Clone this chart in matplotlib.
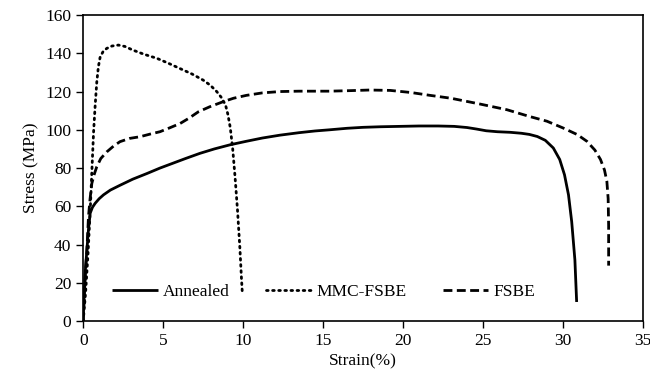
import matplotlib.pyplot as plt

# Stress-strain curves
annealed_strain = [0, 0.05, 0.12, 0.23, 0.33, 0.44, 0.58, 0.75, 1.0, 1.27, 1.7, 2.3, 3.1, 4.0, 4.8, 5.6, 6.4, 7.3, 8.2, 9.2, 10.2, 11.2, 12.3, 13.5, 14.5, 15.4, 16.5, 17.5, 18.6, 19.8, 21, 22.2, 23.2, 24.0, 24.6, 25.2, 25.9, 26.7, 27.4, 27.9, 28.4, 28.9, 29.4, 29.8, 30.1, 30.35, 30.55, 30.75, 30.86]
annealed_stress = [0, 12, 25, 37, 48, 56.5, 59.5, 61.6, 64, 66, 68.5, 71, 74.2, 77.2, 80, 82.5, 85, 87.7, 90, 92.2, 94, 95.7, 97.2, 98.5, 99.4, 100, 100.8, 101.3, 101.6, 101.8, 102, 102, 101.8, 101.2, 100.4, 99.5, 99, 98.7, 98.2, 97.6, 96.5, 94.5, 90.5, 84.5, 76.5, 66, 52, 32, 10]

mmc_strain = [0, 0.15, 0.3, 0.45, 0.55, 0.65, 0.75, 0.85, 0.95, 1.06, 1.25, 1.48, 1.8, 2.2, 2.6, 3.1, 3.8, 4.6, 5.3, 6.06, 6.8, 7.5, 7.95, 8.35, 8.65, 8.9, 9.05, 9.2, 9.35, 9.5, 9.65, 9.8, 9.9, 9.95]
mmc_stress = [0, 15, 35, 60, 80, 99, 113, 125, 133, 138, 141, 142.6, 143.8, 144.3, 143.6, 141.7, 139.5, 137.4, 134.9, 132, 129.2, 126, 123.3, 120, 116.8, 113, 108, 101, 90, 75, 58, 38, 22, 15]

fsbe_strain = [0, 0.08, 0.15, 0.23, 0.33, 0.43, 0.54, 0.7, 0.85, 1.1, 1.48, 1.9, 2.3, 2.9, 3.56, 4.2, 4.8, 5.4, 6.06, 6.6, 7.2, 7.9, 8.75, 9.4, 10.2, 11.2, 12.3, 13.5, 15.4, 16.8, 17.9, 19.2, 20.5, 21.7, 23.0, 24.8, 26.5, 27.9, 29.0, 30.0, 30.9, 31.5, 32.0, 32.35, 32.6, 32.75, 32.83, 32.86, 32.86]
fsbe_stress = [0, 15, 27, 37, 54.5, 64, 72, 77, 80.7, 85, 88.5, 91.5, 93.8, 95.5, 96.4, 97.8, 99, 101, 103.3, 106, 109.4, 112, 114.7, 116.5, 118, 119.3, 120, 120.2, 120.2, 120.5, 120.8, 120.6, 119.5, 118, 116.5, 113.5, 110.5, 107, 104.5, 101, 97.5, 94, 89.4, 84.5, 79, 73, 64, 50, 29]

x_ticks = [0, 5, 10, 15, 20, 25, 30, 35]
y_ticks = [0, 20, 40, 60, 80, 100, 120, 140, 160]

plt.rcParams['font.family'] = ['Liberation Serif', 'DejaVu Serif']

fig, ax = plt.subplots(figsize=(6.5, 3.76), dpi=100)
fig.subplots_adjust(left=0.128, right=0.989, top=0.96, bottom=0.146)

ax.plot(annealed_strain, annealed_stress, color='black', linewidth=2,
        solid_capstyle='butt', solid_joinstyle='round', label='Annealed')
ax.plot(mmc_strain, mmc_stress, color='black', linewidth=2,
        linestyle=(0, (0.6, 1.6)), dash_capstyle='round', label='MMC-FSBE')
ax.plot(fsbe_strain, fsbe_stress, color='black', linewidth=2,
        linestyle=(0, (3.2, 1.6)), dash_capstyle='butt', label='FSBE')

ax.set_xlim(0, 35)
ax.set_ylim(0, 160)
ax.set_xticks(x_ticks)
ax.set_yticks(y_ticks)
ax.tick_params(direction='out', length=5, width=1, labelsize=12.5, color='black')

for side in ['left', 'bottom', 'top', 'right']:
    ax.spines[side].set_linewidth(1.2)

ax.set_xlabel("Strain(%)", fontsize=12.5, labelpad=3)
ax.set_ylabel("Stress (MPa)", fontsize=12.5)

ax.legend(loc='center', bbox_to_anchor=(0.43, 0.095), ncol=3, frameon=False,
          fontsize=12.5, handlelength=2.6, handletextpad=0.3, columnspacing=2.1)

fig.savefig('out.png', dpi=100)
